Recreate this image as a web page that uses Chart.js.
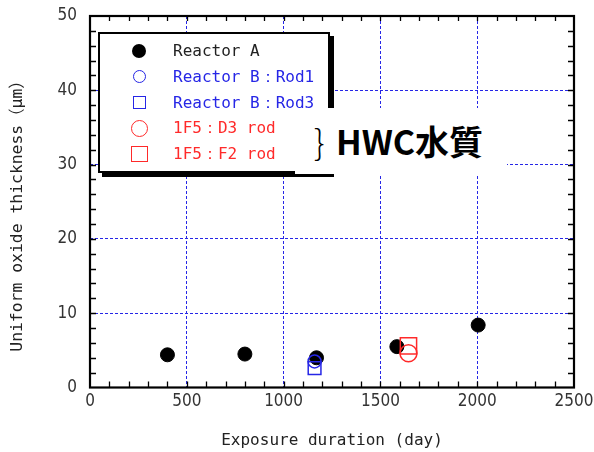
<!DOCTYPE html>
<html>
<head>
<meta charset="utf-8">
<script src="https://cdn.jsdelivr.net/npm/chart.js@4/dist/chart.umd.min.js"></script>
<style>
  body { margin: 0; background: #fff; }
  #wrap { position: relative; width: 594px; height: 452px; }
  #legend {
    position: absolute; left: 98px; top: 32px; width: 232px; height: 141px;
    box-sizing: border-box; border: 2px solid #000; background: #fff;
    box-shadow: 4px 4px 0 #000; z-index: 1;
    font: 16px 'DejaVu Sans Mono', monospace;
  }
  #legend .row { position: absolute; left: 0; height: 24px; line-height: 24px; white-space: pre; }
  #legend .mark { position: absolute; box-sizing: border-box; }
  #legend .txt { position: absolute; left: 73px; top: 0; }
  #hwc {
    position: absolute; left: 295px; top: 108px; width: 212px; height: 66px;
    background: #fff; z-index: 2;
  }
  #hwc span { position: absolute; font-family: 'Noto Sans CJK JP', sans-serif; font-size: 34px; line-height: 46px; color: #000; white-space: pre; }
</style>
</head>
<body>
<div id="wrap">
  <canvas id="oxideChart" width="594" height="452"></canvas>
  <div id="legend"></div>
  <div id="hwc"><span style="left:19px; top:10px; font-weight:300;">}</span><span style="left:41px; top:10px; font-weight:700;">HWC水質</span></div>
</div>
<script>
// exposure (day) / oxide thickness (μm) per rod
const reactorA_days = [400, 800, 1170, 1585, 2005];
const reactorA_oxide = [4.4, 4.5, 4.0, 5.5, 8.4];
const rod1_days = [1160];
const rod1_oxide = [3.5];
const rod3_days = [1160];
const rod3_oxide = [2.6];
const d3_days = [1645];
const d3_oxide = [4.6];
const f2_days = [1645];
const f2_oxide = [5.6];

const seriesLabels = ['Reactor A', 'Reactor B：Rod1', 'Reactor B：Rod3', '1F5：D3 rod', '1F5：F2 rod'];
const xTicks = [0, 500, 1000, 1500, 2000, 2500];
const yTicks = [0, 10, 20, 30, 40, 50];

const BLUE = '#2626e6';
const RED = '#ff2a2a';

function pts(xs, ys) {
  return xs.map((x, i) => ({ x: x, y: ys[i] }));
}

const datasets = [
  { label: seriesLabels[0], data: pts(reactorA_days, reactorA_oxide), pointStyle: 'circle', pointRadius: 7,
    backgroundColor: '#000', borderColor: '#000', borderWidth: 1, order: 1 },
  { label: seriesLabels[1], data: pts(rod1_days, rod1_oxide), pointStyle: 'circle', pointRadius: 6.5,
    backgroundColor: 'rgba(0,0,0,0)', borderColor: BLUE, borderWidth: 1.5, order: 0 },
  { label: seriesLabels[2], data: pts(rod3_days, rod3_oxide), pointStyle: 'rect', pointRadius: 9,
    backgroundColor: 'rgba(0,0,0,0)', borderColor: BLUE, borderWidth: 1.5, order: 0 },
  { label: seriesLabels[3], data: pts(d3_days, d3_oxide), pointStyle: 'circle', pointRadius: 8.5,
    backgroundColor: 'rgba(0,0,0,0)', borderColor: RED, borderWidth: 1.5, order: 0 },
  { label: seriesLabels[4], data: pts(f2_days, f2_oxide), pointStyle: 'rect', pointRadius: 11.5,
    backgroundColor: 'rgba(0,0,0,0)', borderColor: RED, borderWidth: 1.5, order: 0 }
];

// legend rows
const legendStyles = [
  { text: '#222', mark: 'width:14px;height:14px;border-radius:50%;background:#000;' },
  { text: BLUE, mark: 'width:13px;height:13px;border-radius:50%;border:1.5px solid ' + BLUE + ';' },
  { text: BLUE, mark: 'width:13px;height:13px;border:1.5px solid ' + BLUE + ';' },
  { text: RED, mark: 'width:17px;height:17px;border-radius:50%;border:1.5px solid ' + RED + ';' },
  { text: RED, mark: 'width:17px;height:16px;border:1.5px solid ' + RED + ';' }
];
const legend = document.getElementById('legend');
seriesLabels.forEach((lab, i) => {
  const row = document.createElement('div');
  row.className = 'row';
  row.style.top = (17 + 25.75 * i - 12) + 'px';
  row.style.width = '100%';
  const m = document.createElement('span');
  m.className = 'mark';
  m.style.cssText = legendStyles[i].mark;
  const w = parseFloat(m.style.width), h = parseFloat(m.style.height);
  m.style.left = (39 - w / 2) + 'px';
  m.style.top = (12 - h / 2) + 'px';
  const t = document.createElement('span');
  t.className = 'txt';
  t.style.color = legendStyles[i].text;
  t.textContent = lab;
  row.appendChild(m);
  row.appendChild(t);
  legend.appendChild(row);
});

// frame, inward minor ticks and the rotated y title
const framePlugin = {
  id: 'frame',
  beforeDatasetsDraw(chart) {
    const { ctx, chartArea: a, scales: { x, y } } = chart;
    ctx.save();
    ctx.strokeStyle = '#000';
    ctx.lineWidth = 1.3;
    ctx.beginPath();
    for (let v = 100; v < 2500; v += 100) {
      const px = Math.round(x.getPixelForValue(v)) + 0.5;
      ctx.moveTo(px, a.bottom); ctx.lineTo(px, a.bottom - 6);
      ctx.moveTo(px, a.top); ctx.lineTo(px, a.top + 5);
    }
    for (let v = 2; v < 50; v += 2) {
      const py = Math.round(y.getPixelForValue(v)) + 0.5;
      ctx.moveTo(a.left, py); ctx.lineTo(a.left + 6, py);
      ctx.moveTo(a.right, py); ctx.lineTo(a.right - 6, py);
    }
    ctx.stroke();
    ctx.lineWidth = 2.2;
    ctx.strokeRect(a.left, a.top, a.right - a.left, a.bottom - a.top);
    ctx.restore();
  },
  afterDraw(chart) {
    const ctx = chart.ctx;
    ctx.save();
    ctx.translate(18, 212);
    ctx.rotate(-Math.PI / 2);
    ctx.font = "16.4px 'DejaVu Sans Mono', 'Noto Sans CJK JP', monospace";
    ctx.fillStyle = '#222';
    ctx.textAlign = 'center';
    ctx.textBaseline = 'middle';
    ctx.fillText('Uniform oxide thickness（μm）', 0, 0);
    ctx.restore();
  }
};

const tickFont = { family: "'Liberation Sans Narrow', 'DejaVu Sans Condensed', sans-serif", size: 17 };

new Chart(document.getElementById('oxideChart').getContext('2d'), {
  type: 'scatter',
  data: { datasets: datasets },
  options: {
    responsive: false,
    animation: false,
    layout: { padding: { top: 16, right: 20, left: 0, bottom: 0 } },
    plugins: { legend: { display: false }, tooltip: { enabled: false } },
    scales: {
      x: {
        type: 'linear', min: 0, max: 2500,
        afterBuildTicks: s => { s.ticks = xTicks.map(v => ({ value: v })); },
        afterFit: s => { s.height = 64.5; s.paddingLeft = 0; s.paddingRight = 0; },
        ticks: { font: tickFont, color: '#333', padding: 4, maxRotation: 0, callback: v => String(v) },
        grid: { color: BLUE, lineWidth: 1, drawTicks: false, borderDash: [3, 2] },
        border: { display: false, dash: [3, 2] },
        title: { display: true, text: 'Exposure duration (day)', color: '#222',
          font: { family: "'DejaVu Sans Mono', monospace", size: 16 }, padding: { top: 0, bottom: 2 } }
      },
      y: {
        type: 'linear', min: 0, max: 50,
        afterBuildTicks: s => { s.ticks = yTicks.map(v => ({ value: v })); },
        afterFit: s => { s.width = 90; s.paddingTop = 0; s.paddingBottom = 0; },
        ticks: { font: tickFont, color: '#333', padding: 13, callback: v => String(v) },
        grid: { color: BLUE, lineWidth: 1, drawTicks: false, borderDash: [3, 2] },
        border: { display: false, dash: [3, 2] }
      }
    }
  },
  plugins: [framePlugin]
});
</script>
</body>
</html>
